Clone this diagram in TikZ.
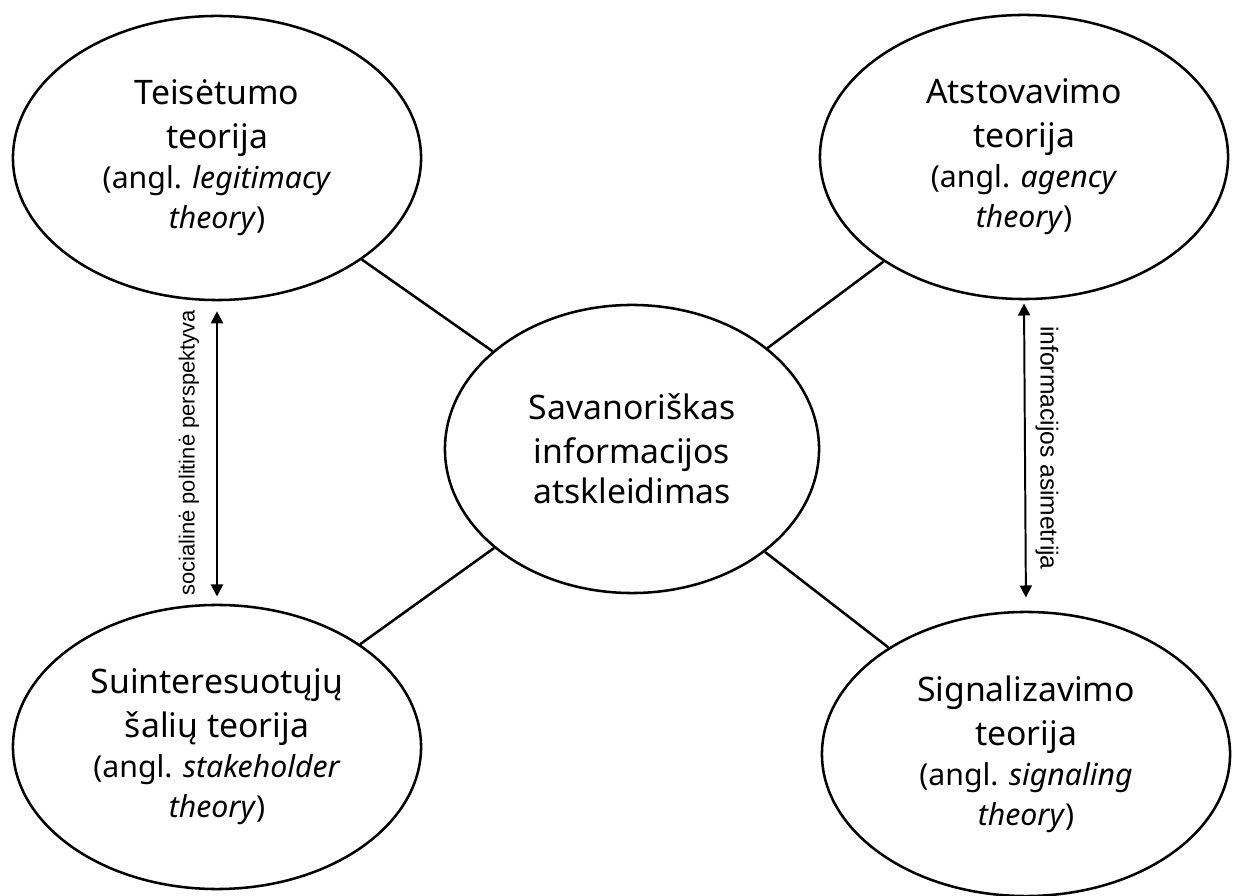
\documentclass[tikz,border=0pt]{standalone}
\usepackage{fontspec}
\setmainfont{Noto Sans}
\newfontfamily\arialfont{Liberation Sans}
\usetikzlibrary{shapes.geometric,arrows.meta}
\definecolor{linija}{HTML}{000000}
\newcommand{\angl}[2]{{\fontsize{21.5}{28.5}\selectfont (angl. \textit{#1}}\\{\fontsize{21.5}{28.5}\selectfont\textit{#2})}}

\begin{document}
\begin{tikzpicture}[x=0.025cm, y=0.025cm,
    teorija/.style={draw=linija, ellipse, line width=1.8pt, inner sep=0pt,
      minimum width=10.2cm, minimum height=7.1cm, align=center,
      font=\fontsize{24}{28.5}\selectfont},
    centras/.style={teorija, minimum width=9.35cm, minimum height=7.2cm},
    jungtis/.style={draw=linija, line width=1.8pt},
    rodykle/.style={draw=linija, line width=1.4pt,
      {Triangle[width=0.3cm,length=0.3cm]}-{Triangle[width=0.3cm,length=0.3cm]}},
    etikete/.style={inner sep=0pt, text=linija}]
  \useasboundingbox (0,0) rectangle (1237,895);
  % teorijos
  \node[teorija] (tl) at (217,737) {Teisėtumo\\[2.7pt]teorija\\\angl{legitimacy}{theory}};
  \node[teorija] (tr) at (1024,738) {Atstovavimo\\[2.7pt]teorija\\\angl{agency}{theory}};
  \node[teorija] (bl) at (217,148) {Suinteresuotųjų\\[2.7pt]šalių teorija\\\angl{stakeholder}{theory}};
  \node[teorija] (br) at (1026,141) {Signalizavimo\\[2.7pt]teorija\\\angl{signaling}{theory}};
  \node[centras] (c) at (632,446) {Savanoriškas\\[2.7pt]informacijos\\atskleidimas};
  \foreach \k in {tl,tr,bl,br}
    \draw[jungtis] (\k) -- (c);
  % perspektyvos
  \draw[rodykle, shorten <=0.18cm, shorten >=0.25cm] (bl.north) -- (tl.south);
  \draw[rodykle, shorten <=0.08cm, shorten >=0.33cm] (tr.south) -- (br.north);
  \node[etikete, rotate=90, font=\arialfont\fontsize{15.6}{18}\selectfont] (soc) at (189,442) {socialinė politinė perspektyva};
  \node[etikete, rotate=-90, font=\arialfont\fontsize{17.5}{20}\selectfont] (asim) at (1047,447) {informacijos asimetrija};
\end{tikzpicture}
\end{document}
